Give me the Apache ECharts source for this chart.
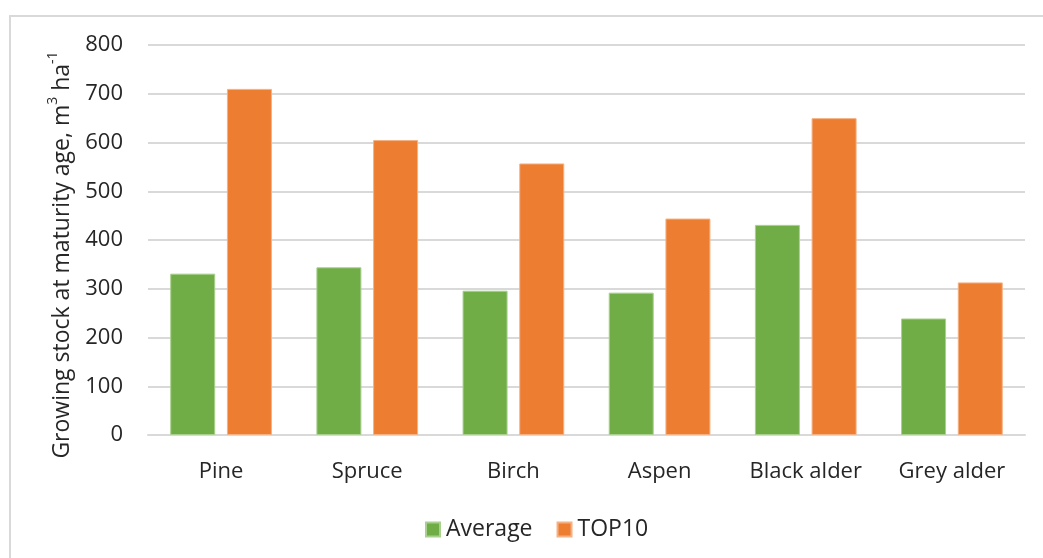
<!DOCTYPE html>
<html>
<head>
<meta charset="utf-8">
<script src="https://cdn.jsdelivr.net/npm/echarts@6/dist/echarts.min.js"></script>
<style>
  html, body { margin: 0; padding: 0; background: #ffffff; }
  #chart { width: 1043px; height: 558px; }
</style>
</head>
<body>
<div id="chart"></div>
<script>
// Tree species and growing stock at maturity age (m3/ha)
const categories = ['Pine', 'Spruce', 'Birch', 'Aspen', 'Black alder', 'Grey alder'];
const averageValues = [331, 344, 296, 292, 431, 239];
const top10Values = [710, 605, 557, 444, 650, 313];
const seriesNames = ['Average', 'TOP10'];

const FONT = '"Open Sans", "Noto Sans", sans-serif';
const TEXT_COLOR = '#262626';

const chart = echarts.init(document.getElementById('chart'), null, { renderer: 'canvas' });

chart.setOption({
  backgroundColor: '#ffffff',
  animation: false,
  graphic: [{
    type: 'rect',
    shape: { x: 10, y: 16, width: 1100, height: 600 },
    style: { fill: 'none', stroke: '#d9d9d9', lineWidth: 2 },
    silent: true,
    z: -1
  }],
  grid: { left: 148, right: 18, top: 45, bottom: 123, containLabel: false },
  legend: {
    bottom: 12,
    left: 420,
    itemWidth: 14,
    itemHeight: 14,
    itemGap: 24,
    icon: 'rect',
    textStyle: { fontFamily: FONT, fontSize: 23, color: TEXT_COLOR, padding: [0, 0, 0, 1] },
    data: seriesNames
  },
  xAxis: {
    type: 'category',
    data: categories,
    axisLine: { show: true, lineStyle: { color: '#d9d9d9', width: 2 } },
    axisTick: { show: false },
    axisLabel: { fontFamily: FONT, fontSize: 22, color: TEXT_COLOR, margin: 26 }
  },
  yAxis: {
    type: 'value',
    min: 0,
    max: 800,
    interval: 100,
    name: '{a|Growing stock at maturity age, m}{s|3}{a| ha}{s|-1}',
    nameLocation: 'middle',
    nameGap: 70,
    nameRotate: 90,
    nameTextStyle: {
      padding: [0, 30, 0, 0],
      rich: {
        a: { fontFamily: FONT, fontSize: 23, color: TEXT_COLOR, verticalAlign: 'bottom', lineHeight: 28 },
        s: { fontFamily: FONT, fontSize: 14, color: TEXT_COLOR, verticalAlign: 'top', lineHeight: 28 }
      }
    },
    axisLine: { show: false },
    axisTick: { show: false },
    axisLabel: { fontFamily: FONT, fontSize: 22, color: TEXT_COLOR, margin: 25 },
    splitLine: { lineStyle: { color: '#d9d9d9', width: 2 } }
  },
  series: [
    {
      name: seriesNames[0],
      type: 'bar',
      data: averageValues,
      barWidth: 45,
      barGap: '26%',
      itemStyle: { color: '#70ad47', borderColor: '#a9d08e', borderWidth: 1 }
    },
    {
      name: seriesNames[1],
      type: 'bar',
      data: top10Values,
      barWidth: 45,
      barGap: '26%',
      itemStyle: { color: '#ed7d31', borderColor: '#f4b183', borderWidth: 1 }
    }
  ]
});
</script>
</body>
</html>
